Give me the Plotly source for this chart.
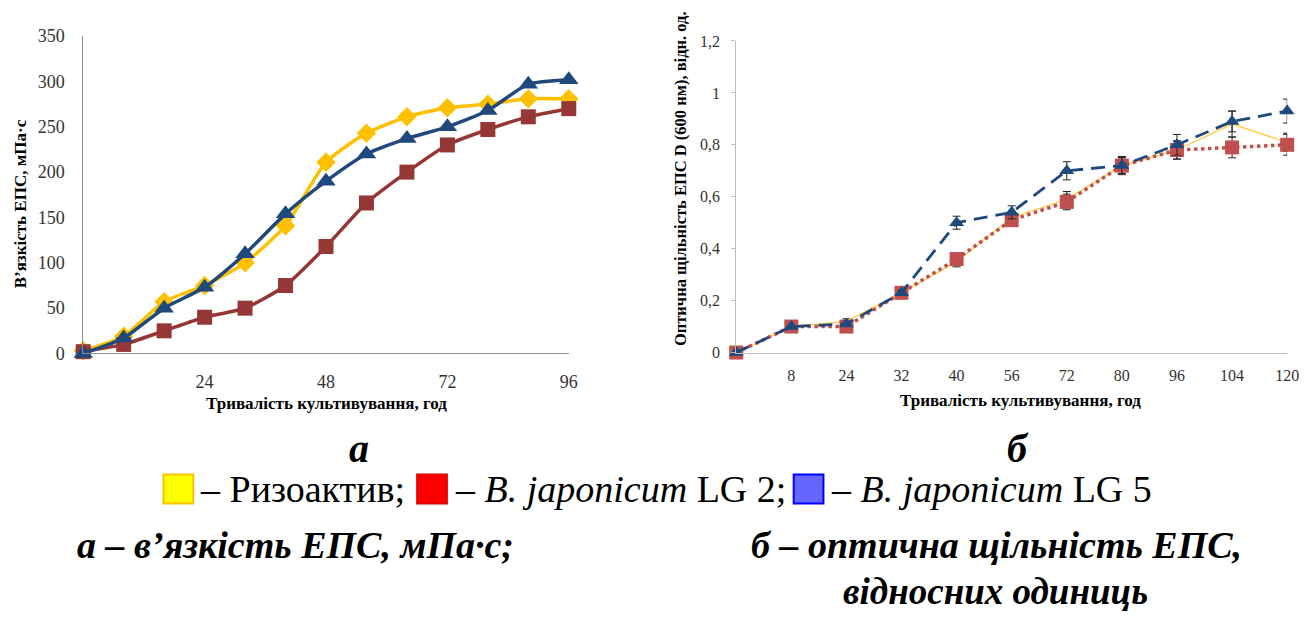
import plotly.graph_objects as go

# ---------------- data ----------------
hours_a = [0, 8, 16, 24, 32, 40, 48, 56, 64, 72, 80, 88, 96]
visc_rizo = [3, 19, 57, 75, 100, 141, 211, 243, 261, 271, 275, 281, 281]
visc_lg2 = [2, 10, 25, 40, 50, 75, 118, 166, 200, 230, 247, 261, 270]
visc_lg5 = [0, 17, 50, 73, 110, 154, 190, 220, 237, 250, 268, 297, 302]
ticks_a = [24, 48, 72, 96]

labels_b = ["", "8", "24", "32", "40", "56", "72", "80", "96", "104", "120"]
od_rizo = [0, 0.10, 0.12, 0.23, 0.35, 0.52, 0.59, 0.72, 0.78, 0.88, 0.81]
od_lg2 = [0, 0.10, 0.10, 0.23, 0.36, 0.51, 0.58, 0.72, 0.78, 0.79, 0.80]
od_lg5 = [0, 0.10, 0.11, 0.23, 0.50, 0.54, 0.70, 0.72, 0.80, 0.89, 0.93]
err_rizo = [0, 0, 0.01, 0.01, 0.02, 0.02, 0.03, 0.03, 0.035, 0.05, 0.035]
err_lg2 = [0, 0, 0.01, 0.01, 0.02, 0.02, 0.03, 0.03, 0.035, 0.04, 0.04]
err_lg5 = [0, 0, 0.005, 0.01, 0.025, 0.025, 0.035, 0.035, 0.04, 0.04, 0.046]
pos_b = list(range(len(labels_b)))

W, H = 1316, 617
def px(x):
    return x / W
def py(y):
    return 1 - y / H

SERIF = "Liberation Serif"

fig = go.Figure()

# ---------------- chart a ----------------
fig.add_trace(go.Scatter(x=hours_a, y=visc_rizo, mode="lines+markers",
                         line=dict(color="#FFC000", width=3.5, shape="spline", smoothing=0.6),
                         marker=dict(symbol="diamond", size=15, color="#FFC000"),
                         cliponaxis=False, xaxis="x", yaxis="y", showlegend=False))
fig.add_trace(go.Scatter(x=hours_a, y=visc_lg2, mode="lines+markers",
                         line=dict(color="#953735", width=3.5, shape="spline", smoothing=0.6),
                         marker=dict(symbol="square", size=15, color="#953735"),
                         cliponaxis=False, xaxis="x", yaxis="y", showlegend=False))
fig.add_trace(go.Scatter(x=hours_a, y=visc_lg5, mode="lines+markers",
                         line=dict(color="#1F497D", width=3.5, shape="spline", smoothing=0.6),
                         marker=dict(symbol="triangle-up", size=17, color="#1F497D"),
                         cliponaxis=False, xaxis="x", yaxis="y", showlegend=False))

# ---------------- chart b ----------------
fig.add_trace(go.Scatter(x=pos_b, y=od_rizo, mode="lines",
                         line=dict(color="#FFCC44", width=1.3),
                         error_y=dict(type="data", array=err_rizo, color="#222222", thickness=1, width=4),
                         cliponaxis=False, xaxis="x2", yaxis="y2", showlegend=False))
fig.add_trace(go.Scatter(x=pos_b, y=od_lg2, mode="lines+markers",
                         line=dict(color="#C0504D", width=3.5, dash="dot"),
                         marker=dict(symbol="square", size=14, color="#C0504D"),
                         error_y=dict(type="data", array=err_lg2, color="#222222", thickness=1, width=4),
                         cliponaxis=False, xaxis="x2", yaxis="y2", showlegend=False))
fig.add_trace(go.Scatter(x=pos_b, y=od_lg5, mode="lines+markers",
                         line=dict(color="#1F497D", width=2.8, dash="14px,8px"),
                         marker=dict(symbol="triangle-up", size=13, color="#1F497D"),
                         error_y=dict(type="data", array=err_lg5, color="#222222", thickness=1, width=4),
                         cliponaxis=False, xaxis="x2", yaxis="y2", showlegend=False))

fig.update_layout(
    width=W, height=H, autosize=False,
    margin=dict(l=0, r=0, t=0, b=0),
    paper_bgcolor="white", plot_bgcolor="white",
    separators=", ",
    font=dict(family=SERIF, color="#333333"),
    xaxis=dict(domain=[px(84), px(574)], range=[0, 96], tickvals=ticks_a,
               showgrid=False, zeroline=False, showline=True, linecolor="#8C8C8C", linewidth=1,
               ticks="", ticklabelstandoff=12, tickfont=dict(size=18, family=SERIF, color="#333333"),
               anchor="y"),
    yaxis=dict(domain=[py(355), py(27)], range=[0, 350], dtick=50,
               showgrid=False, zeroline=False, showline=True, linecolor="#8C8C8C", linewidth=1,
               ticks="", ticklabelstandoff=14, tickfont=dict(size=18, family=SERIF, color="#333333"),
               anchor="x"),
    xaxis2=dict(domain=[px(743), px(1299)], range=[0, 10], tickvals=pos_b, ticktext=labels_b,
                showgrid=False, zeroline=False, showline=True, linecolor="#BDBDBD", linewidth=1,
                ticks="", ticklabelstandoff=8, tickfont=dict(size=16, family=SERIF, color="#333333"),
                anchor="y2"),
    yaxis2=dict(domain=[py(354), py(32)], range=[0, 1.2], dtick=0.2,
                showgrid=False, zeroline=False, showline=True, linecolor="#BDBDBD", linewidth=1,
                ticks="outside", ticklen=4, tickcolor="#BDBDBD",
                ticklabelstandoff=8, tickfont=dict(size=16, family=SERIF, color="#333333"),
                anchor="x2"),
)

anns = []
# axis titles
anns.append(dict(text="<b>В’язкість ЕПС, мПа·с</b>", x=px(21), y=py(200), textangle=-90,
                 font=dict(size=17, family=SERIF, color="black")))
anns.append(dict(text="<b>Тривалість культивування, год</b>", x=px(330), y=py(407),
                 font=dict(size=17, family=SERIF, color="black")))
anns.append(dict(text="<b>Оптична щільність ЕПС D (600 нм), відн. од.</b>", x=px(687), y=py(174),
                 textangle=-90, font=dict(size=16.5, family=SERIF, color="black")))
anns.append(dict(text="<b>Тривалість культивування, год</b>", x=px(1030), y=py(404),
                 font=dict(size=17, family=SERIF, color="black")))
# panel letters
anns.append(dict(text="<b><i>а</i></b>", x=px(362), y=py(453), font=dict(size=40, family=SERIF, color="black")))
anns.append(dict(text="<b><i>б</i></b>", x=px(1027), y=py(453), font=dict(size=40, family=SERIF, color="black")))
# legend texts
anns.append(dict(text="– Ризоактив;", x=px(200), y=py(495), xanchor="left",
                 font=dict(size=38, family=SERIF, color="black")))
anns.append(dict(text="– <i>B. japonicum</i> LG 2;", x=px(457), y=py(495), xanchor="left",
                 font=dict(size=38, family=SERIF, color="black")))
anns.append(dict(text="– <i>B. japonicum</i> LG 5", x=px(837), y=py(495), xanchor="left",
                 font=dict(size=38, family=SERIF, color="black")))
# captions
anns.append(dict(text="<b><i>а – в’язкість ЕПС, мПа·с;</i></b>", x=px(76), y=py(553), xanchor="left",
                 font=dict(size=38, family=SERIF, color="black")))
anns.append(dict(text="<b><i>б – оптична щільність ЕПС,</i></b>", x=px(756), y=py(553), xanchor="left",
                 font=dict(size=38, family=SERIF, color="black")))
anns.append(dict(text="<b><i>відносних одиниць</i></b>", x=px(1005), y=py(601),
                 font=dict(size=37, family=SERIF, color="black")))
for a in anns:
    a.update(xref="paper", yref="paper", showarrow=False)
    a.setdefault("xanchor", "center")
    a.setdefault("yanchor", "middle")
fig.update_layout(annotations=anns)

# legend squares
squares = [(165, "#FFFF00", "#FFC000"), (421, "#FF0000", "#E00000"), (801, "#6666FF", "#0000FF")]
shapes = []
for x0, fill, border in squares:
    shapes.append(dict(type="rect", xref="paper", yref="paper",
                       x0=px(x0), x1=px(x0 + 30), y0=py(510), y1=py(480),
                       fillcolor=fill, line=dict(color=border, width=2)))
fig.update_layout(shapes=shapes)

fig.write_html("out.html", config={"displayModeBar": False},
               post_script="document.body.style.margin='0';document.body.style.overflow='hidden';"
                           "document.documentElement.style.overflow='hidden';")
